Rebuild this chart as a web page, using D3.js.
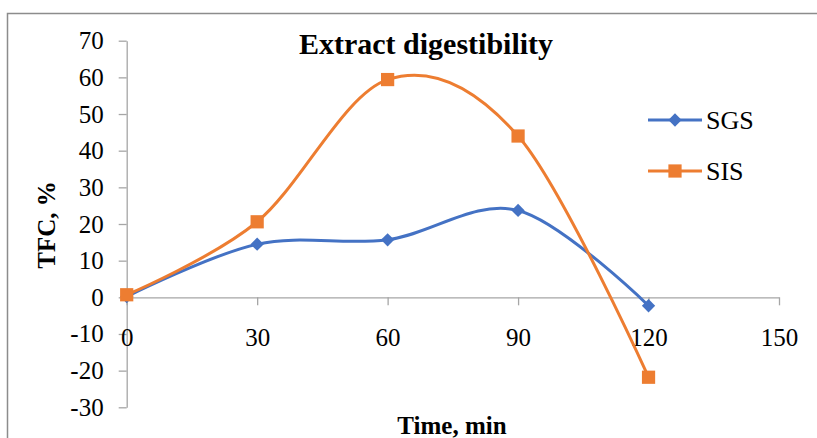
<!DOCTYPE html>
<html>
<head>
<meta charset="utf-8">
<script src="https://cdn.jsdelivr.net/npm/d3@7"></script>
<style>
  body { margin: 0; background: #fff; }
  text { font-family: "Liberation Serif", "Times New Roman", serif; fill: #000; }
</style>
</head>
<body>
<div id="chart"></div>
<script>
// data
var times = [0, 30, 60, 90, 120];
var sgs = [0.2, 14.5, 15.7, 23.7, -2.3];
var sis = [0.7, 20.6, 59.4, 44.0, -21.8];
var xTicks = [0, 30, 60, 90, 120, 150];
var yTicks = [-30, -20, -10, 0, 10, 20, 30, 40, 50, 60, 70];
var seriesNames = ["SGS", "SIS"];
var seriesColors = ["#4472C4", "#ED7D31"];

var W = 817, H = 438;
var serif = "'Liberation Serif', 'Times New Roman', serif";

var svg = d3.select("#chart").append("svg")
    .attr("width", W)
    .attr("height", H);

// chart frame
svg.append("rect")
    .attr("x", 7.5).attr("y", 13.5)
    .attr("width", 830).attr("height", 460)
    .attr("fill", "none")
    .attr("stroke", "#8c8c8c")
    .attr("stroke-width", 1.5);

var x = d3.scaleLinear().domain([0, 150]).range([126.7, 779]);
var y = d3.scaleLinear().domain([-30, 70]).range([407.3, 40.7]);

var axisColor = "#a6a6a6";
var plain = function(d) { return String(d); }; // hyphen minus like the original

// y axis
var gy = svg.append("g")
    .attr("transform", "translate(" + x(0) + ",0)")
    .call(d3.axisLeft(y).tickValues(yTicks).tickFormat(plain).tickSize(8).tickPadding(15).tickSizeOuter(0));
gy.select(".domain").attr("stroke", axisColor).attr("stroke-width", 1.3);
gy.selectAll(".tick line").attr("stroke", axisColor).attr("stroke-width", 1.3);
gy.selectAll(".tick text")
    .style("font-family", serif)
    .attr("font-size", 25)
    .attr("fill", "#000");

// x axis at y = 0
var gx = svg.append("g")
    .attr("transform", "translate(0," + y(0) + ")")
    .call(d3.axisBottom(x).tickValues(xTicks).tickFormat(plain).tickSize(8).tickPadding(23).tickSizeOuter(0));
gx.select(".domain").attr("stroke", axisColor).attr("stroke-width", 1.3);
gx.selectAll(".tick line").attr("stroke", axisColor).attr("stroke-width", 1.3);
gx.selectAll(".tick text")
    .style("font-family", serif)
    .attr("font-size", 25)
    .attr("fill", "#000");

var line = d3.line()
    .x(function(d) { return x(d[0]); })
    .y(function(d) { return y(d[1]); })
    .curve(d3.curveCardinal.tension(0));

var allSeries = [sgs, sis];
var diamond = d3.symbol().type(d3.symbolSquare).size(88);
var square = d3.symbol().type(d3.symbolSquare).size(175);

allSeries.forEach(function(vals, i) {
  var pts = times.map(function(t, k) { return [t, vals[k]]; });
  svg.append("path")
      .datum(pts)
      .attr("d", line)
      .attr("fill", "none")
      .attr("stroke", seriesColors[i])
      .attr("stroke-width", 3);
});

allSeries.forEach(function(vals, i) {
  var pts = times.map(function(t, k) { return [t, vals[k]]; });
  svg.append("g").selectAll("path")
      .data(pts)
      .enter().append("path")
      .attr("d", i == 0 ? diamond : square)
      .attr("transform", function(d) {
        return "translate(" + x(d[0]) + "," + y(d[1]) + ")" + (i == 0 ? " rotate(45)" : "");
      })
      .attr("fill", seriesColors[i]);
});

// title
svg.append("text")
    .attr("x", 426).attr("y", 54)
    .attr("text-anchor", "middle")
    .style("font-family", serif)
    .attr("font-weight", "bold")
    .attr("font-size", 30)
    .text("Extract digestibility");

// axis titles
svg.append("text")
    .attr("transform", "translate(55,225) rotate(-90)")
    .attr("text-anchor", "middle")
    .style("font-family", serif)
    .attr("font-weight", "bold")
    .attr("font-size", 25)
    .text("TFC, %");

svg.append("text")
    .attr("x", 452).attr("y", 434)
    .attr("text-anchor", "middle")
    .style("font-family", serif)
    .attr("font-weight", "bold")
    .attr("font-size", 25)
    .text("Time, min");

// legend
var legend = svg.append("g");
seriesNames.forEach(function(name, i) {
  var ly = 120 + i * 51;
  legend.append("line")
      .attr("x1", 648).attr("x2", 702)
      .attr("y1", ly).attr("y2", ly)
      .attr("stroke", seriesColors[i])
      .attr("stroke-width", 3);
  legend.append("path")
      .attr("d", i == 0 ? diamond : square)
      .attr("transform", "translate(675," + ly + ")" + (i == 0 ? " rotate(45)" : ""))
      .attr("fill", seriesColors[i]);
  legend.append("text")
      .attr("x", 706).attr("y", ly + 9)
      .style("font-family", serif)
      .attr("font-size", 26)
      .text(name);
});
</script>
</body>
</html>
